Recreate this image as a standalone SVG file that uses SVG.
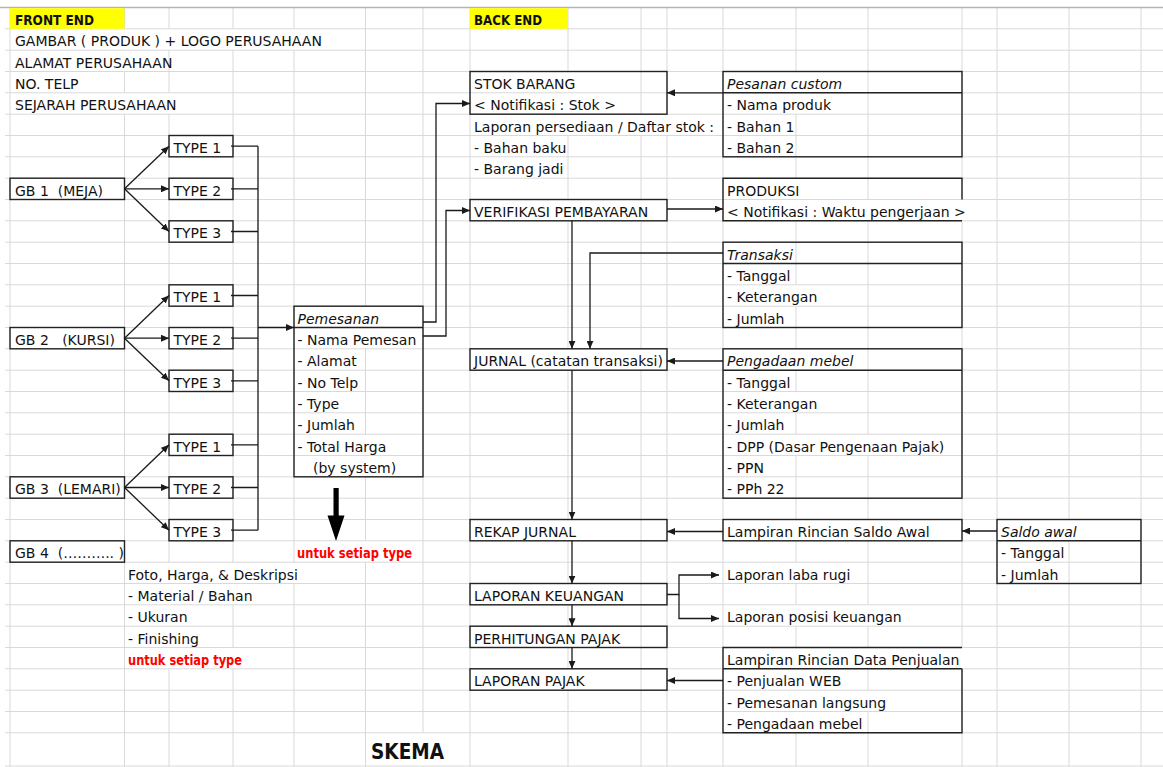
<svg xmlns="http://www.w3.org/2000/svg" width="1163" height="767" viewBox="0 0 1163 767">
<style>
text{font-family:"DejaVu Sans","Liberation Sans",sans-serif;font-size:14px;fill:#111;white-space:pre}
.b{font-weight:bold}
.i{font-style:italic}
.red{fill:#ff0000;font-weight:bold}
.t{font-size:21px;font-weight:bold}
.g{stroke:#d9d9d9;stroke-width:1;fill:none}
.h{fill:#fff}
.box{fill:none;stroke:#222;stroke-width:1.4}
.ln{fill:none;stroke:#1a1a1a;stroke-width:1.3}
.ar{fill:none;stroke:#1a1a1a;stroke-width:1.3;marker-end:url(#ah)}
</style>
<defs>
<marker id="ah" viewBox="0 0 8 7" refX="8" refY="3.5" markerWidth="8" markerHeight="7" markerUnits="userSpaceOnUse" orient="auto"><path d="M0,0 L8,3.5 L0,7 z" fill="#1a1a1a"/></marker>
</defs>
<rect width="1163" height="767" fill="#fff"/>
<g id="grid">
<path class="g" d="M5,28.8H1163M5,50.2H1163M5,71.5H1163M5,92.8H1163M5,114.2H1163M5,135.5H1163M5,156.8H1163M5,178.2H1163M5,199.5H1163M5,220.8H1163M5,242.2H1163M5,263.5H1163M5,284.8H1163M5,306.2H1163M5,327.5H1163M5,348.8H1163M5,370.2H1163M5,391.5H1163M5,412.8H1163M5,434.2H1163M5,455.5H1163M5,476.8H1163M5,498.2H1163M5,519.5H1163M5,540.8H1163M5,562.2H1163M5,583.5H1163M5,604.8H1163M5,626.2H1163M5,647.5H1163M5,668.8H1163M5,690.2H1163M5,711.5H1163M5,732.8H1163M5,766H1163"/>
<path class="g" d="M10,7.5V767M124.5,7.5V767M169,7.5V767M233,7.5V767M294,7.5V767M365.5,7.5V767M423,7.5V767M470,7.5V767M568,7.5V767M641,7.5V767M667,7.5V767M723,7.5V767M796,7.5V767M868,7.5V767M962,7.5V767M997,7.5V767M1069,7.5V767M1141,7.5V767"/>
<path d="M0,7.5H1163" stroke="#b4b4b4" stroke-width="1.5"/>
</g>
<g id="overflow-mask">
<rect class="h" x="123" y="29.5" width="3" height="20"/><rect class="h" x="167.5" y="29.5" width="3" height="20"/><rect class="h" x="231.5" y="29.5" width="3" height="20"/><rect class="h" x="292.5" y="29.5" width="3" height="20"/>
<rect class="h" x="123" y="50.9" width="3" height="20"/>
<rect class="h" x="566.5" y="72.2" width="3" height="20"/><rect class="h" x="794.5" y="72.2" width="3" height="20"/>
<rect class="h" x="123" y="93.5" width="3" height="20"/><rect class="h" x="167.5" y="93.5" width="3" height="20"/><rect class="h" x="566.5" y="93.5" width="3" height="20"/><rect class="h" x="794.5" y="93.5" width="3" height="20"/>
<rect class="h" x="566.5" y="114.9" width="3" height="20"/><rect class="h" x="639.5" y="114.9" width="3" height="20"/><rect class="h" x="665.5" y="114.9" width="3" height="20"/>
<rect class="h" x="794.5" y="178.9" width="3" height="20"/>
<rect class="h" x="566.5" y="200.2" width="3" height="20"/><rect class="h" x="639.5" y="200.2" width="3" height="20"/><rect class="h" x="794.5" y="200.2" width="3" height="20"/><rect class="h" x="866.5" y="200.2" width="3" height="20"/><rect class="h" x="960.5" y="200.2" width="3" height="20"/>
<rect class="h" x="794.5" y="285.5" width="3" height="20"/>
<rect class="h" x="364" y="306.9" width="3" height="20"/>
<rect class="h" x="364" y="328.2" width="3" height="20"/>
<rect class="h" x="566.5" y="349.5" width="3" height="20"/><rect class="h" x="639.5" y="349.5" width="3" height="20"/><rect class="h" x="794.5" y="349.5" width="3" height="20"/>
<rect class="h" x="794.5" y="392.2" width="3" height="20"/>
<rect class="h" x="364" y="434.9" width="3" height="20"/><rect class="h" x="794.5" y="434.9" width="3" height="20"/><rect class="h" x="866.5" y="434.9" width="3" height="20"/>
<rect class="h" x="364" y="456.2" width="3" height="20"/>
<rect class="h" x="566.5" y="520.2" width="3" height="20"/><rect class="h" x="794.5" y="520.2" width="3" height="20"/><rect class="h" x="866.5" y="520.2" width="3" height="20"/><rect class="h" x="1067.5" y="520.2" width="3" height="20"/>
<rect class="h" x="364" y="541.5" width="3" height="20"/>
<rect class="h" x="167.5" y="562.9" width="3" height="20"/><rect class="h" x="231.5" y="562.9" width="3" height="20"/><rect class="h" x="292.5" y="562.9" width="3" height="20"/><rect class="h" x="794.5" y="562.9" width="3" height="20"/>
<rect class="h" x="167.5" y="584.2" width="3" height="20"/><rect class="h" x="231.5" y="584.2" width="3" height="20"/><rect class="h" x="566.5" y="584.2" width="3" height="20"/>
<rect class="h" x="167.5" y="605.5" width="3" height="20"/><rect class="h" x="794.5" y="605.5" width="3" height="20"/><rect class="h" x="866.5" y="605.5" width="3" height="20"/>
<rect class="h" x="167.5" y="626.9" width="3" height="20"/><rect class="h" x="566.5" y="626.9" width="3" height="20"/>
<rect class="h" x="167.5" y="648.2" width="3" height="20"/><rect class="h" x="231.5" y="648.2" width="3" height="20"/><rect class="h" x="794.5" y="648.2" width="3" height="20"/><rect class="h" x="866.5" y="648.2" width="3" height="20"/><rect class="h" x="960.5" y="648.2" width="3" height="20"/>
<rect class="h" x="566.5" y="669.5" width="3" height="20"/><rect class="h" x="794.5" y="669.5" width="3" height="20"/>
<rect class="h" x="794.5" y="690.9" width="3" height="20"/><rect class="h" x="866.5" y="690.9" width="3" height="20"/>
<rect class="h" x="794.5" y="712.2" width="3" height="20"/>
<rect class="h" x="421.5" y="733.5" width="3" height="32"/>
</g>
<g id="front-end-info">
<rect x="10" y="8.2" width="114.5" height="20.6" fill="#ffff00"/>
<text class="b" x="15" y="25" textLength="79" lengthAdjust="spacingAndGlyphs">FRONT END</text>
<text x="15" y="46.4">GAMBAR ( PRODUK ) + LOGO PERUSAHAAN</text>
<text x="15" y="67.7">ALAMAT PERUSAHAAN</text>
<text x="15" y="89">NO. TELP</text>
<text x="15" y="110.4">SEJARAH PERUSAHAAN</text>
</g>
<g id="back-end-label">
<rect x="470" y="8.2" width="98" height="20.6" fill="#ffff00"/>
<text class="b" x="474" y="25" textLength="68" lengthAdjust="spacingAndGlyphs">BACK END</text>
</g>
<g id="gb1"><rect class="box" x="10" y="178.2" width="114.5" height="21.3"/><text x="15" y="195.7">GB 1  (MEJA)</text></g>
<g id="gb2"><rect class="box" x="10" y="327.5" width="114.5" height="21.3"/><text x="15" y="345">GB 2   (KURSI)</text></g>
<g id="gb3"><rect class="box" x="10" y="476.8" width="114.5" height="21.4"/><text x="15" y="494.4">GB 3  (LEMARI)</text></g>
<g id="gb4"><rect class="box" x="10" y="540.8" width="114.5" height="21.4"/><text x="15" y="558.4">GB 4  (……….. )</text></g>
<g id="gb1-type1"><rect class="box" x="169" y="135.5" width="64" height="21.3"/><text x="173.5" y="153">TYPE 1</text></g>
<g id="gb1-type2"><rect class="box" x="169" y="178.2" width="64" height="21.3"/><text x="173.5" y="195.7">TYPE 2</text></g>
<g id="gb1-type3"><rect class="box" x="169" y="220.8" width="64" height="21.4"/><text x="173.5" y="238.4">TYPE 3</text></g>
<g id="gb2-type1"><rect class="box" x="169" y="284.8" width="64" height="21.4"/><text x="173.5" y="302.4">TYPE 1</text></g>
<g id="gb2-type2"><rect class="box" x="169" y="327.5" width="64" height="21.3"/><text x="173.5" y="345">TYPE 2</text></g>
<g id="gb2-type3"><rect class="box" x="169" y="370.2" width="64" height="21.3"/><text x="173.5" y="387.7">TYPE 3</text></g>
<g id="gb3-type1"><rect class="box" x="169" y="434.2" width="64" height="21.3"/><text x="173.5" y="451.7">TYPE 1</text></g>
<g id="gb3-type2"><rect class="box" x="169" y="476.8" width="64" height="21.4"/><text x="173.5" y="494.4">TYPE 2</text></g>
<g id="gb3-type3"><rect class="box" x="169" y="519.5" width="64" height="21.3"/><text x="173.5" y="537">TYPE 3</text></g>
<g id="detail-note">
<text x="128" y="579.7">Foto, Harga, &amp; Deskripsi</text>
<text x="128" y="601">- Material / Bahan</text>
<text x="128" y="622.4">- Ukuran</text>
<text x="128" y="643.7">- Finishing</text>
<text class="red" x="128" y="665" textLength="114" lengthAdjust="spacingAndGlyphs">untuk setiap type</text>
</g>
<g id="pemesanan">
<rect class="box" x="294" y="306.2" width="129" height="170.6"/>
<path class="box" d="M294,327.5H423"/>
<text class="i" x="297.5" y="323.7">Pemesanan</text>
<text x="297.5" y="345">- Nama Pemesan</text>
<text x="297.5" y="366.4">- Alamat</text>
<text x="297.5" y="387.7">- No Telp</text>
<text x="297.5" y="409">- Type</text>
<text x="297.5" y="430.4">- Jumlah</text>
<text x="297.5" y="451.7">- Total Harga</text>
<text x="313" y="473">(by system)</text>
</g>
<g id="per-type-arrow">
<rect x="333.5" y="488" width="5.2" height="29" fill="#000"/>
<polygon points="327.5,515.5 344.5,515.5 336,541" fill="#000"/>
<text class="red" x="297" y="558.4" textLength="115" lengthAdjust="spacingAndGlyphs">untuk setiap type</text>
</g>
<g id="stok-barang">
<rect class="box" x="470" y="71.5" width="197" height="42.7"/>
<text x="474" y="89">STOK BARANG</text>
<text x="474" y="110.4">&lt; Notifikasi : Stok &gt;</text>
<text x="474" y="131.7">Laporan persediaan / Daftar stok :</text>
<text x="474" y="153">- Bahan baku</text>
<text x="474" y="174.4">- Barang jadi</text>
</g>
<g id="pesanan-custom">
<rect class="box" x="723" y="71.5" width="239" height="85.3"/>
<path class="box" d="M723,92.8H962"/>
<text class="i" x="727" y="89">Pesanan custom</text>
<text x="727" y="110.4">- Nama produk</text>
<text x="727" y="131.7">- Bahan 1</text>
<text x="727" y="153">- Bahan 2</text>
</g>
<g id="verifikasi"><rect class="box" x="470" y="199.5" width="197" height="21.3"/><text x="474" y="217">VERIFIKASI PEMBAYARAN</text></g>
<g id="produksi">
<path class="box" d="M962,199.5V178.2H723V220.8H962"/>
<text x="727" y="195.7">PRODUKSI</text>
<text x="727" y="217">&lt; Notifikasi : Waktu pengerjaan &gt;</text>
</g>
<g id="transaksi">
<rect class="box" x="723" y="242.2" width="239" height="85.3"/>
<path class="box" d="M723,263.5H962"/>
<text class="i" x="727" y="259.7">Transaksi</text>
<text x="727" y="281">- Tanggal</text>
<text x="727" y="302.4">- Keterangan</text>
<text x="727" y="323.7">- Jumlah</text>
</g>
<g id="jurnal"><rect class="box" x="470" y="348.8" width="197" height="21.4"/><text x="474" y="366.4">JURNAL (catatan transaksi)</text></g>
<g id="pengadaan-mebel">
<rect class="box" x="723" y="348.8" width="239" height="149.4"/>
<path class="box" d="M723,370.2H962"/>
<text class="i" x="727" y="366.4">Pengadaan mebel</text>
<text x="727" y="387.7">- Tanggal</text>
<text x="727" y="409">- Keterangan</text>
<text x="727" y="430.4">- Jumlah</text>
<text x="727" y="451.7">- DPP (Dasar Pengenaan Pajak)</text>
<text x="727" y="473">- PPN</text>
<text x="727" y="494.4">- PPh 22</text>
</g>
<g id="rekap-jurnal"><rect class="box" x="470" y="519.5" width="197" height="21.3"/><text x="474" y="537">REKAP JURNAL</text></g>
<g id="lampiran-saldo-awal"><rect class="box" x="723" y="519.5" width="239" height="21.3"/><text x="727" y="537">Lampiran Rincian Saldo Awal</text></g>
<g id="saldo-awal">
<rect class="box" x="997" y="519.5" width="144" height="64"/>
<path class="box" d="M997,540.8H1141"/>
<text class="i" x="1001" y="537">Saldo awal</text>
<text x="1001" y="558.4">- Tanggal</text>
<text x="1001" y="579.7">- Jumlah</text>
</g>
<g id="laporan-keuangan"><rect class="box" x="470" y="583.5" width="197" height="21.3"/><text x="474" y="601">LAPORAN KEUANGAN</text></g>
<g id="laba-rugi"><text x="727" y="579.7">Laporan laba rugi</text></g>
<g id="posisi-keuangan"><text x="727" y="622.4">Laporan posisi keuangan</text></g>
<g id="perhitungan-pajak"><rect class="box" x="470" y="626.2" width="197" height="21.3"/><text x="474" y="643.7">PERHITUNGAN PAJAK</text></g>
<g id="laporan-pajak"><rect class="box" x="470" y="668.8" width="197" height="21.4"/><text x="474" y="686.4">LAPORAN PAJAK</text></g>
<g id="data-penjualan">
<path class="box" d="M962,668.8V732.8H723V647.5H962M723,668.8H962"/>
<text x="727" y="665">Lampiran Rincian Data Penjualan</text>
<text x="727" y="686.4">- Penjualan WEB</text>
<text x="727" y="707.7">- Pemesanan langsung</text>
<text x="727" y="729">- Pengadaan mebel</text>
</g>
<g id="title"><text class="t" x="371" y="759" textLength="73" lengthAdjust="spacingAndGlyphs">SKEMA</text></g>
<g id="connectors">
<path class="ar" d="M124.5,188.8L169,146.2"/>
<path class="ar" d="M124.5,188.8H169"/>
<path class="ar" d="M124.5,188.8L169,231.5"/>
<path class="ar" d="M124.5,338.2L169,295.5"/>
<path class="ar" d="M124.5,338.2H169"/>
<path class="ar" d="M124.5,338.2L169,380.8"/>
<path class="ar" d="M124.5,487.5L169,444.8"/>
<path class="ar" d="M124.5,487.5H169"/>
<path class="ar" d="M124.5,487.5L169,530.2"/>
<path class="ln" d="M231,146.2H258M231,188.8H258M231,231.5H258M231,295.5H258M231,338.2H258M231,380.8H258M231,444.8H258M231,487.5H258M231,530.2H258M258,146.2V530.2"/>
<path class="ar" d="M258,327.5H294"/>
<path class="ar" d="M423,322H436V103.5H470"/>
<path class="ar" d="M423,336H446V210.5H470"/>
<path class="ar" d="M723,92.8H667"/>
<path class="ar" d="M667,209H723"/>
<path class="ar" d="M572,220.8V348.8"/>
<path class="ar" d="M723,253H590V348.8"/>
<path class="ar" d="M723,361H667"/>
<path class="ar" d="M572,370.2V519.5"/>
<path class="ar" d="M723,531.5H667"/>
<path class="ar" d="M997,531H962"/>
<path class="ar" d="M572,540.8V583.5"/>
<path class="ar" d="M572,604.8V626.2"/>
<path class="ar" d="M572,647.5V668.8"/>
<path class="ar" d="M667,594.5H679V575H719"/>
<path class="ar" d="M679,594.5V618.5H719"/>
<path class="ar" d="M723,680.5H667"/>
</g>
</svg>
